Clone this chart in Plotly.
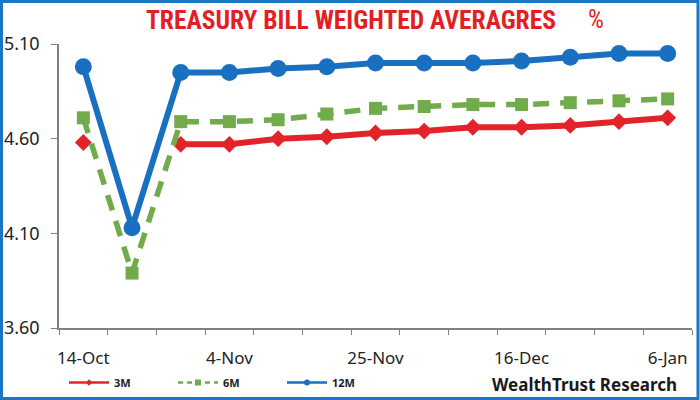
import plotly.graph_objects as go

dates = ["14-Oct", "21-Oct", "28-Oct", "4-Nov", "11-Nov", "18-Nov", "25-Nov",
         "2-Dec", "9-Dec", "16-Dec", "23-Dec", "30-Dec", "6-Jan"]
tick_labels = ["14-Oct", "4-Nov", "25-Nov", "16-Dec", "6-Jan"]
m3 = [4.58, None, 4.57, 4.57, 4.60, 4.61, 4.63, 4.64, 4.66, 4.66, 4.67, 4.69, 4.71]
m6 = [4.71, 3.89, 4.69, 4.69, 4.70, 4.73, 4.76, 4.77, 4.78, 4.78, 4.79, 4.80, 4.81]
m12 = [4.98, 4.13, 4.95, 4.95, 4.97, 4.98, 5.00, 5.00, 5.00, 5.01, 5.03, 5.05, 5.05]
y_ticks = [3.60, 4.10, 4.60, 5.10]
series_names = ["3M", "6M", "12M"]

RED = "#e3232a"
GREEN = "#71ab4b"
BLUE = "#1a70c0"

fig = go.Figure()
# chart traces
fig.add_trace(go.Scatter(x=dates, y=m3, name=series_names[0], mode="lines+markers",
                         connectgaps=False, showlegend=False,
                         line=dict(color=RED, width=6),
                         marker=dict(symbol="diamond", size=13, color=RED)))
fig.add_trace(go.Scatter(x=dates, y=m6, name=series_names[1], mode="lines+markers",
                         showlegend=False,
                         line=dict(color=GREEN, width=5.5, dash="16px,11px"),
                         marker=dict(symbol="square", size=13, color=GREEN)))
fig.add_trace(go.Scatter(x=dates, y=m12, name=series_names[2], mode="lines+markers",
                         showlegend=False,
                         line=dict(color=BLUE, width=6),
                         marker=dict(symbol="circle", size=17, color=BLUE)))
# legend entries (small symbols as in the reference legend)
fig.add_trace(go.Scatter(x=[None], y=[None], name=series_names[0], mode="lines+markers",
                         line=dict(color=RED, width=2.5),
                         marker=dict(symbol="diamond", size=5, color=RED)))
fig.add_trace(go.Scatter(x=[None], y=[None], name=series_names[1], mode="lines+markers",
                         line=dict(color=GREEN, width=2.5, dash="5px,4px"),
                         marker=dict(symbol="square", size=6, color=GREEN)))
fig.add_trace(go.Scatter(x=[None], y=[None], name=series_names[2], mode="lines+markers",
                         line=dict(color=BLUE, width=2.5),
                         marker=dict(symbol="circle", size=6, color=BLUE)))

L, R, T, B = 59, 8, 44, 72
W, H = 700, 400
pw, ph = W - L - R, H - T - B

def px_x(p):
    return (p - L) / pw

def px_y(p):
    return (H - B - p) / ph

FAM = "Noto Sans, Liberation Sans, sans-serif"
COND = "Roboto Condensed, Roboto, Liberation Sans, sans-serif"

fig.update_layout(
    width=W, height=H,
    margin=dict(l=L, r=R, t=T, b=B, autoexpand=False),
    paper_bgcolor="white", plot_bgcolor="white",
    showlegend=True,
    legend=dict(orientation="h", x=px_x(64), y=px_y(368), xanchor="left", yanchor="top",
                font=dict(family=FAM, size=11, color="#222222", weight="bold"),
                entrywidth=54, entrywidthmode="pixels", itemwidth=40,
                bgcolor="rgba(0,0,0,0)"),
    xaxis=dict(type="category", categoryorder="array", categoryarray=dates,
               range=[-0.5, len(dates) - 0.5],
               tickmode="array", tickvals=dates,
               ticktext=[d if d in tick_labels else "" for d in dates],
               tickangle=0, automargin=False,
               tickson="boundaries", ticks="outside", ticklen=5, tickcolor="#808080",
               ticklabelstandoff=14,
               showline=True, linecolor="#808080", linewidth=1.5,
               showgrid=False, zeroline=False,
               tickfont=dict(family=FAM, size=17, color="#222222")),
    yaxis=dict(range=[3.60, 5.10], tickmode="array", tickvals=y_ticks,
               ticktext=[f"{v:.2f}" for v in y_ticks],
               ticks="outside", ticklen=6, tickcolor="#808080",
               ticklabelstandoff=8, automargin=False,
               showline=True, linecolor="#808080", linewidth=1.5,
               showgrid=False, zeroline=False,
               tickfont=dict(family=FAM, size=18, color="#222222")),
)

fig.add_annotation(text="TREASURY BILL WEIGHTED AVERAGRES",
                   xref="paper", yref="paper", x=px_x(351), y=px_y(20),
                   xanchor="center", yanchor="middle", showarrow=False,
                   font=dict(family=COND, size=25.5, color="#e31e25", weight="bold"))
fig.add_annotation(text="%",
                   xref="paper", yref="paper", x=px_x(596), y=px_y(20),
                   xanchor="center", yanchor="middle", showarrow=False,
                   font=dict(family=COND, size=25, color="#e31e25"))
fig.add_annotation(text="<b>WealthTrust Research</b>",
                   xref="paper", yref="paper", x=px_x(584), y=px_y(384),
                   xanchor="center", yanchor="middle", showarrow=False,
                   font=dict(family=FAM, size=17, color="#1a1a1a"))

fig.add_shape(type="rect", xref="paper", yref="paper",
              x0=px_x(1.5), x1=px_x(698), y0=px_y(398.5), y1=px_y(1.5),
              line=dict(color="#1a75c4", width=3), fillcolor="rgba(0,0,0,0)",
              layer="above")

fig.write_html("out.html")
